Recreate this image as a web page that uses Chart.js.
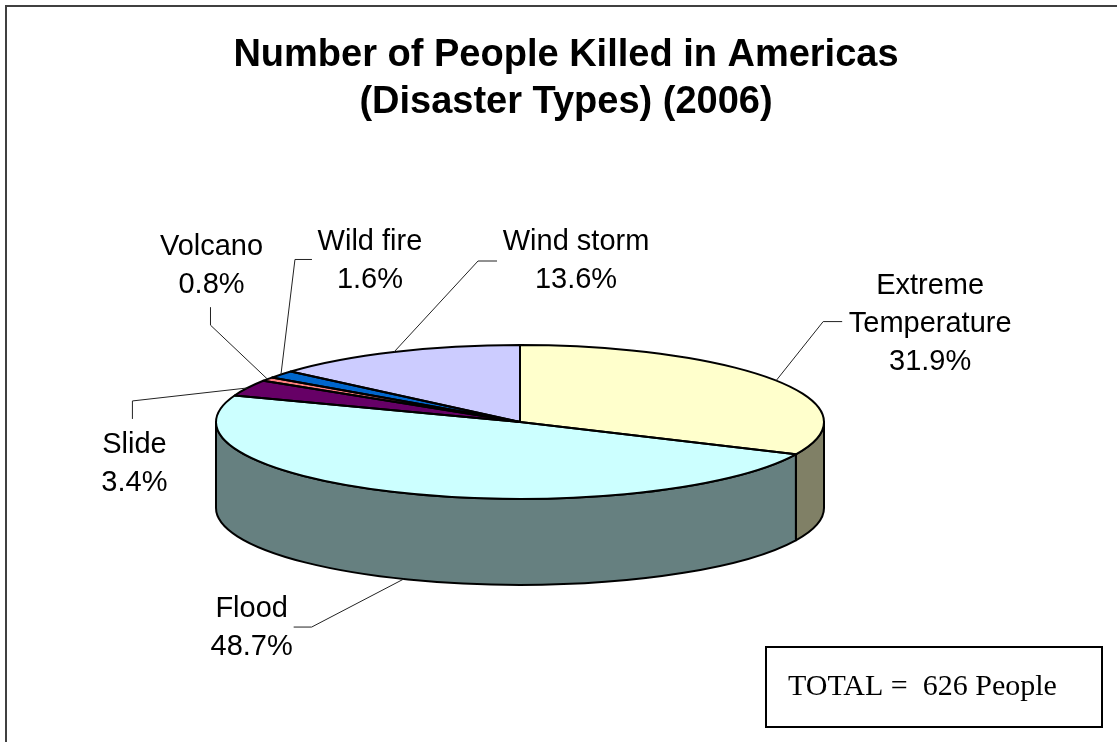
<!DOCTYPE html>
<html>
<head>
<meta charset="utf-8">
<title>Number of People Killed in Americas (Disaster Types) (2006)</title>
<script src="https://cdn.jsdelivr.net/npm/chart.js@4.4.1/dist/chart.umd.min.js"></script>
<style>
  html, body { margin: 0; padding: 0; background: #fff; }
  canvas { display: block; }
</style>
</head>
<body>
<canvas id="disasterChart" width="1117" height="742"></canvas>
<script>
// Share of people killed in the Americas in 2006, by disaster type (%)
const categories = [['Extreme', 'Temperature'], ['Flood'], ['Slide'], ['Volcano'], ['Wild fire'], ['Wind storm']];
const shares = [31.9, 48.7, 3.4, 0.8, 1.6, 13.6];
const totalPeople = 626;

const topColors = ['#FFFFCC', '#CCFFFF', '#660066', '#FF8080', '#0066CC', '#CCCCFF'];
const sideColors = ['#808066', '#668080', '#330033', '#804040', '#003366', '#666680'];

const tilt = 0.253;   // vertical squash of the pie top
const depth = 86;     // height of the pie wall

// label placement, as offsets from the slice's anchor point on the rim
const callouts = [
  { elbow: [47, -59], end: [66, -59], text: [154, -87] },
  { elbow: [-92, 48], end: [-110, 48], text: [-152, 38] },
  { elbow: [-115, 13], end: [-115, 31], text: [-113, 65] },
  { elbow: [-57, -54], end: [-57, -72], text: [-56, -124] },
  { elbow: [14, -115], end: [31, -115], text: [89, -124] },
  { elbow: [84, -91], end: [103, -91], text: [182, -102] }
];

const labelFont = '29px Arial, "Liberation Sans", sans-serif';
const lineGap = 38;

function rim(chart) {
  const arc = chart.getDatasetMeta(0).data[0];
  return { cx: arc.x, cy: arc.y, rx: arc.outerRadius, ry: arc.outerRadius * tilt };
}

const pie3d = {
  id: 'pie3d',
  beforeDatasetsDraw(chart) {
    const ctx = chart.ctx;
    const { cx, cy, rx, ry } = rim(chart);

    // front wall: only the part of each slice between 0 and PI faces us
    ctx.save();
    ctx.lineWidth = 2;
    ctx.lineJoin = 'round';
    ctx.strokeStyle = '#000';
    chart.getDatasetMeta(0).data.forEach((arc, i) => {
      const a0 = Math.max(arc.startAngle, 0);
      const a1 = Math.min(arc.endAngle, Math.PI);
      if (a1 <= a0) return;
      ctx.beginPath();
      ctx.ellipse(cx, cy, rx, ry, 0, a0, a1);
      ctx.lineTo(cx + rx * Math.cos(a1), cy + depth + ry * Math.sin(a1));
      ctx.ellipse(cx, cy + depth, rx, ry, 0, a1, a0, true);
      ctx.closePath();
      ctx.fillStyle = sideColors[i];
      ctx.fill();
      ctx.stroke();
    });
    ctx.restore();

    // squash the slices into an ellipse
    ctx.save();
    ctx.translate(cx, cy);
    ctx.scale(1, tilt);
    ctx.translate(-cx, -cy);
  },
  afterDatasetsDraw(chart) {
    const ctx = chart.ctx;
    ctx.restore();
    const { cx, cy, rx, ry } = rim(chart);
    const arcs = chart.getDatasetMeta(0).data;

    // slice outlines on the top face
    ctx.save();
    ctx.lineWidth = 2;
    ctx.lineJoin = 'round';
    ctx.strokeStyle = '#000';
    arcs.forEach(arc => {
      ctx.beginPath();
      ctx.moveTo(cx, cy);
      ctx.lineTo(cx + rx * Math.cos(arc.startAngle), cy + ry * Math.sin(arc.startAngle));
      ctx.ellipse(cx, cy, rx, ry, 0, arc.startAngle, arc.endAngle);
      ctx.closePath();
      ctx.stroke();
    });
    ctx.restore();

    // data labels with leader lines
    ctx.save();
    ctx.font = labelFont;
    ctx.fillStyle = '#000';
    ctx.textAlign = 'center';
    ctx.textBaseline = 'alphabetic';
    arcs.forEach((arc, i) => {
      const mid = (arc.startAngle + arc.endAngle) / 2;
      const ax = cx + rx * Math.cos(mid);
      const ay = cy + ry * Math.sin(mid) + (Math.sin(mid) > 0 ? depth : 0);
      const c = callouts[i];
      ctx.beginPath();
      ctx.moveTo(ax, ay);
      ctx.lineTo(ax + c.elbow[0], ay + c.elbow[1]);
      ctx.lineTo(ax + c.end[0], ay + c.end[1]);
      ctx.lineWidth = 1;
      ctx.strokeStyle = '#222';
      ctx.stroke();

      const lines = categories[i].concat(shares[i].toFixed(1) + '%');
      lines.forEach((txt, k) => {
        ctx.fillText(txt, ax + c.text[0], ay + c.text[1] + k * lineGap);
      });
    });
    ctx.restore();
  },
  afterDraw(chart) {
    const ctx = chart.ctx;
    ctx.save();

    // chart frame
    ctx.strokeStyle = '#404040';
    ctx.lineWidth = 2;
    ctx.strokeRect(6, 6, 1300, 900);

    // title
    ctx.fillStyle = '#000';
    ctx.font = 'bold 38px Arial, "Liberation Sans", sans-serif';
    ctx.textAlign = 'center';
    ctx.fillText('Number of People Killed in Americas', 566, 66);
    ctx.fillText('(Disaster Types) (2006)', 566, 113);

    // total box
    ctx.strokeStyle = '#000';
    ctx.strokeRect(766, 647, 336, 80);
    ctx.font = '30px "Liberation Serif", "Times New Roman", serif';
    ctx.textAlign = 'left';
    ctx.fillText('TOTAL =  ' + totalPeople + ' People', 788, 695);
    ctx.restore();
  }
};

new Chart(document.getElementById('disasterChart'), {
  type: 'pie',
  data: {
    labels: categories,
    datasets: [{
      data: shares,
      backgroundColor: topColors,
      borderWidth: 0
    }]
  },
  options: {
    responsive: false,
    animation: false,
    events: [],
    layout: { padding: { left: 216, right: 293, top: 118, bottom: 16 } },
    plugins: {
      legend: { display: false },
      tooltip: { enabled: false },
      title: { display: false }
    }
  },
  plugins: [pie3d]
});
</script>
</body>
</html>
